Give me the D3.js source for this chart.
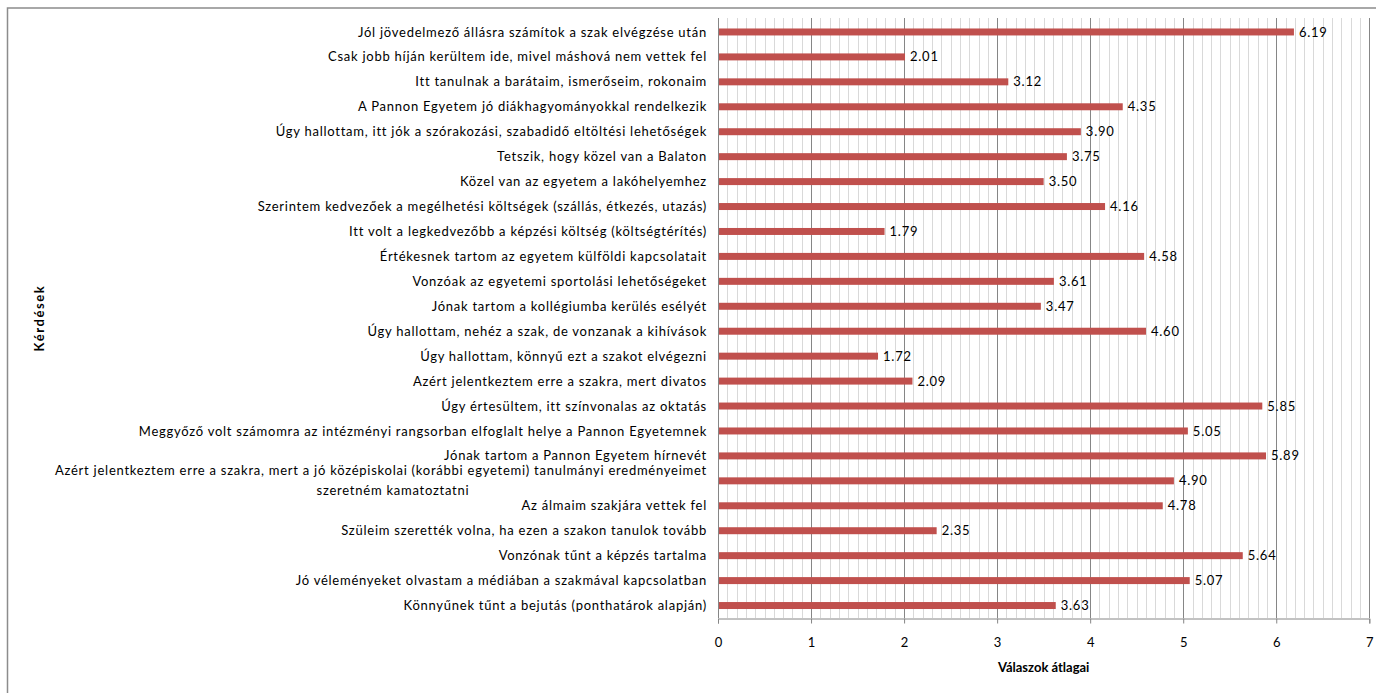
<!DOCTYPE html>
<html>
<head>
<meta charset="utf-8">
<script src="https://cdn.jsdelivr.net/npm/d3@7"></script>
<style>
  html, body { margin: 0; padding: 0; background: #fff; }
  svg { display: block; }
  text { font-family: "Lato", "Open Sans", sans-serif; fill: #000; }
</style>
</head>
<body>
<svg id="chart" width="1376" height="693"></svg>
<script>
const categories = [
  "Jól jövedelmező állásra számítok a szak elvégzése után",
  "Csak jobb híján kerültem ide, mivel máshová nem vettek fel",
  "Itt tanulnak a barátaim, ismerőseim, rokonaim",
  "A Pannon Egyetem jó diákhagyományokkal rendelkezik",
  "Úgy hallottam, itt jók a szórakozási, szabadidő eltöltési lehetőségek",
  "Tetszik, hogy közel van a Balaton",
  "Közel van az egyetem a lakóhelyemhez",
  "Szerintem kedvezőek a megélhetési költségek (szállás, étkezés, utazás)",
  "Itt volt a legkedvezőbb a képzési költség (költségtérítés)",
  "Értékesnek tartom az egyetem külföldi kapcsolatait",
  "Vonzóak az egyetemi sportolási lehetőségeket",
  "Jónak tartom a kollégiumba kerülés esélyét",
  "Úgy hallottam, nehéz a szak, de vonzanak a kihívások",
  "Úgy hallottam, könnyű ezt a szakot elvégezni",
  "Azért jelentkeztem erre a szakra, mert divatos",
  "Úgy értesültem, itt színvonalas az oktatás",
  "Meggyőző volt számomra az intézményi rangsorban elfoglalt helye a Pannon Egyetemnek",
  "Jónak tartom a Pannon Egyetem hírnevét",
  "Azért jelentkeztem erre a szakra, mert a jó középiskolai (korábbi egyetemi) tanulmányi eredményeimet|szeretném kamatoztatni",
  "Az álmaim szakjára vettek fel",
  "Szüleim szerették volna, ha ezen a szakon tanulok tovább",
  "Vonzónak tűnt a képzés tartalma",
  "Jó véleményeket olvastam a médiában a szakmával kapcsolatban",
  "Könnyűnek tűnt a bejutás (ponthatárok alapján)"
];
const values = [6.19, 2.01, 3.12, 4.35, 3.90, 3.75, 3.50, 4.16, 1.79, 4.58, 3.61, 3.47, 4.60, 1.72, 2.09, 5.85, 5.05, 5.89, 4.90, 4.78, 2.35, 5.64, 5.07, 3.63];
const xTicks = [0, 1, 2, 3, 4, 5, 6, 7];
const xTitle = "Válaszok átlagai";
const yTitle = "Kérdések";

const data = categories.map((c, i) => ({ cat: c, val: values[i], key: i }));

const svg = d3.select("#chart");

// outer chart border
svg.append("rect")
  .attr("x", 7.5).attr("y", 8).attr("width", 1376).attr("height", 700)
  .attr("fill", "none").attr("stroke", "#8c8c8c").attr("stroke-width", 1.5);

const pLeft = 718, pRight = 1369.3, pTop = 18, pBottom = 618;
const FS = 13, LS = 0.75;

const x = d3.scaleLinear().domain([0, 7]).range([pLeft, pRight]);
const y = d3.scaleBand().domain(data.map(d => d.key)).range([pTop + 1.5, pBottom])
  .paddingInner(0.72).paddingOuter(0.36);

// minor gridlines
const minor = d3.range(1, 70).filter(i => i % 10 !== 0).map(i => i / 10);
svg.append("g").selectAll("line").data(minor).join("line")
  .attr("x1", d => Math.round(x(d)) + 0.5).attr("x2", d => Math.round(x(d)) + 0.5)
  .attr("y1", pTop).attr("y2", pBottom)
  .attr("stroke", "#d9d9d9").attr("stroke-width", 1);

// major gridlines
svg.append("g").selectAll("line").data(xTicks.slice(1)).join("line")
  .attr("x1", d => Math.round(x(d)) + 0.5).attr("x2", d => Math.round(x(d)) + 0.5)
  .attr("y1", pTop).attr("y2", pBottom)
  .attr("stroke", "#868686").attr("stroke-width", 1);

// bars
svg.append("g").selectAll("rect").data(data).join("rect")
  .attr("x", x(0))
  .attr("y", d => y(d.key))
  .attr("width", d => x(d.val) - x(0))
  .attr("height", y.bandwidth())
  .attr("fill", "#c0504d");

// value labels
svg.append("g").selectAll("text").data(data).join("text")
  .attr("x", d => x(d.val) + 5)
  .attr("y", d => y(d.key) + y.bandwidth() / 2)
  .attr("dy", "0.35em")
  .attr("font-size", FS)
  .attr("letter-spacing", LS)
  .text(d => d.val.toFixed(2));

// x axis
const xAxis = d3.axisBottom(x).tickValues(xTicks).tickSize(5).tickPadding(14).tickFormat(d3.format("d"));
const gx = svg.append("g").attr("transform", `translate(0,${pBottom + 0.5})`).call(xAxis);
gx.select(".domain").attr("stroke", "#868686");
gx.selectAll(".tick line").attr("stroke", "#868686");
gx.selectAll(".tick text").attr("font-size", FS).attr("font-family", "Lato").attr("fill", "#000");

// y axis line (no ticks)
const yAxis = d3.axisLeft(y).tickSize(0).tickFormat("");
const gy = svg.append("g").attr("transform", `translate(${pLeft + 0.5},0)`).call(yAxis);
gy.select(".domain").attr("stroke", "#868686").attr("d", `M0,${pTop}V${pBottom}`);

// category labels
const labelX = 707;
const lab = svg.append("g").selectAll("text").data(data).join("text")
  .attr("font-size", FS)
  .attr("letter-spacing", LS)
  .attr("text-anchor", "end")
  .attr("x", labelX)
  .attr("y", d => y(d.key) + y.bandwidth() / 2)
  .attr("dy", "0.35em");
lab.each(function(d) {
  const parts = d.cat.split("|");
  const t = d3.select(this);
  if (parts.length === 1) {
    t.text(parts[0]);
  } else {
    const cy = y(d.key) + y.bandwidth() / 2;
    t.text(null).attr("y", null).attr("dy", null);
    const l1 = t.append("tspan").attr("x", labelX).attr("y", cy - 10).attr("dy", "0.35em").text(parts[0]);
    const w1 = l1.node().getComputedTextLength();
    t.append("tspan").attr("x", labelX - w1 / 2 + 12).attr("y", cy + 10).attr("dy", "0.35em")
      .attr("text-anchor", "middle").text(parts[1]);
  }
});

// axis titles
svg.append("text")
  .attr("x", (pLeft + pRight) / 2).attr("y", 672)
  .attr("text-anchor", "middle").attr("font-weight", "bold").attr("font-size", FS)
  .text(xTitle);

svg.append("text")
  .attr("transform", `translate(44,${(pTop + pBottom) / 2}) rotate(-90)`)
  .attr("text-anchor", "middle").attr("font-weight", "bold").attr("font-size", FS)
  .attr("letter-spacing", 1.6)
  .text(yTitle);
</script>
</body>
</html>
